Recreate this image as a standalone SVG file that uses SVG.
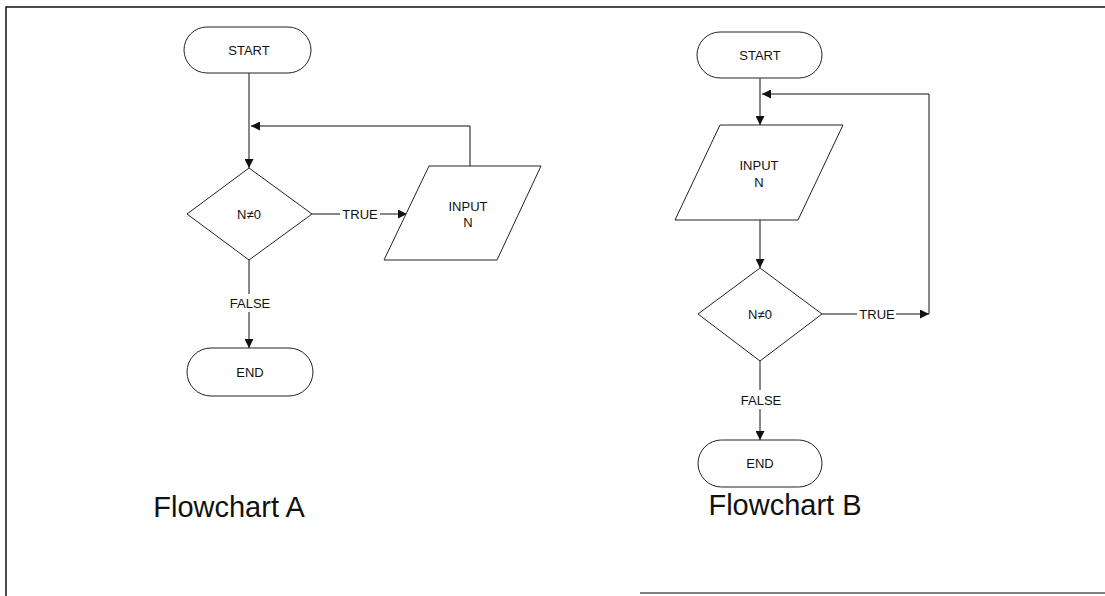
<svg xmlns="http://www.w3.org/2000/svg" width="1105" height="596" viewBox="0 0 1105 596">
<style>
.shape{fill:#fff;stroke:#222;stroke-width:1}
.conn{fill:none;stroke:#111;stroke-width:1}
.lbl{font-family:"Liberation Sans",Arial,sans-serif;font-size:13px;fill:#111;text-anchor:middle}
.title{font-family:"Liberation Sans",Arial,sans-serif;font-size:29px;fill:#111;text-anchor:middle}
.frame{fill:none;stroke:#111;stroke-width:1.5}
</style>
<defs>
<marker id="arr" viewBox="0 0 10 10" refX="10" refY="5" markerWidth="9" markerHeight="9" markerUnits="userSpaceOnUse" orient="auto">
<path d="M0,0 L10,5 L0,10 z" fill="#111"/>
</marker>
</defs>
<rect width="1105" height="596" fill="#fff"/>
<g id="frame">
<path class="frame" d="M6,596 L6,7 L1105,7"/>
<path d="M640,593 L1105,593" stroke="#555" stroke-width="1.5" fill="none"/>
</g>
<g id="connectors">
<path class="conn" d="M249,73 L249,168" marker-end="url(#arr)"/>
<path class="conn" d="M470,166 L470,126 L251,126" marker-end="url(#arr)"/>
<path class="conn" d="M312,214 L340,214"/>
<path class="conn" d="M380,214 L407,214" marker-end="url(#arr)"/>
<path class="conn" d="M249,260 L249,294"/>
<path class="conn" d="M249,312 L249,348" marker-end="url(#arr)"/>
<path class="conn" d="M760,78 L760,125" marker-end="url(#arr)"/>
<path class="conn" d="M760,220 L760,268" marker-end="url(#arr)"/>
<path class="conn" d="M822,314 L857,314"/>
<path class="conn" d="M896,314 L929,314" marker-end="url(#arr)"/>
<path class="conn" d="M929,314 L929,94 L762,94" marker-end="url(#arr)"/>
<path class="conn" d="M760,361 L760,390"/>
<path class="conn" d="M760,409 L760,440" marker-end="url(#arr)"/>
</g>
<g id="labels">
<text class="lbl" x="360" y="219">TRUE</text>
<text class="lbl" x="250" y="308">FALSE</text>
<text class="lbl" x="877" y="319">TRUE</text>
<text class="lbl" x="761" y="405">FALSE</text>
</g>
<g id="a-start"><rect class="shape" x="184" y="27" width="127" height="46" rx="23"/><text class="lbl" x="249" y="55">START</text></g>
<g id="a-decision"><polygon class="shape" points="249,168 312,214 249,260 187,214"/><text class="lbl" x="249" y="219">N≠0</text></g>
<g id="a-input"><polygon class="shape" points="429,166 541,166 497,260 384,260"/><text class="lbl" x="468" y="211">INPUT</text><text class="lbl" x="468" y="227">N</text></g>
<g id="a-end"><rect class="shape" x="187" y="348" width="126" height="48" rx="24"/><text class="lbl" x="250" y="377">END</text></g>
<g id="b-start"><rect class="shape" x="697" y="32" width="125" height="46" rx="23"/><text class="lbl" x="760" y="60">START</text></g>
<g id="b-input"><polygon class="shape" points="720,125 843,125 798,220 675,220"/><text class="lbl" x="759" y="170">INPUT</text><text class="lbl" x="759" y="187">N</text></g>
<g id="b-decision"><polygon class="shape" points="760,268 822,314 760,361 698,314"/><text class="lbl" x="760" y="319">N≠0</text></g>
<g id="b-end"><rect class="shape" x="698" y="440" width="124" height="47" rx="23.5"/><text class="lbl" x="760" y="468">END</text></g>
<g id="titles">
<text class="title" x="229" y="517">Flowchart A</text>
<text class="title" x="785" y="515">Flowchart B</text>
</g>
</svg>
